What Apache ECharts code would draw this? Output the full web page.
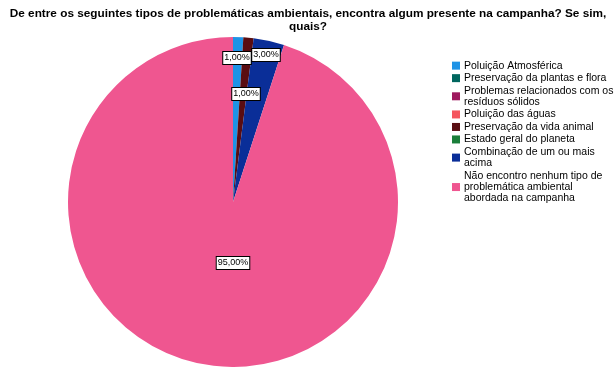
<!DOCTYPE html>
<html><head><meta charset="utf-8">
<script src="https://cdn.jsdelivr.net/npm/echarts@6/dist/echarts.min.js"></script>
<style>html,body{margin:0;padding:0;background:#fff}#c{width:616px;height:367px}</style>
</head><body><div id="c"></div>
<script>
const titleText = "De entre os seguintes tipos de problemáticas ambientais, encontra algum presente na campanha? Se sim,\nquais?";
const categories = [
  "Poluição Atmosférica",
  "Preservação da plantas e flora",
  "Problemas relacionados com os\nresíduos sólidos",
  "Poluição das águas",
  "Preservação da vida animal",
  "Estado geral do planeta",
  "Combinação de um ou mais\nacima",
  "Não encontro nenhum tipo de\nproblemática ambiental\nabordada na campanha"
];
const values = [1, 0, 0, 0, 1, 0, 3, 95];
const colors = ["#1e93e6", "#00665e", "#9e1a5e", "#f5555e", "#5a0d12", "#1a7e3a", "#0a2e98", "#ef5690"];
// label anchor offsets relative to the pie centre (layout, not data)
const labelOffsets = {0: [4, -144], 4: [13, -108], 6: [33, -147], 7: [0, 61]};

const cx = 233, cy = 202, R = 165;
const chart = echarts.init(document.getElementById('c'), null, {renderer: 'canvas'});
chart.setOption({
  animation: false,
  title: {
    text: titleText, left: 'center', top: 2,
    textStyle: {fontFamily: 'Liberation Sans, Arial', fontSize: 11.8, fontWeight: 'bold', color: '#000', lineHeight: 13}
  },
  legend: {
    orient: 'vertical', left: 447, top: 55,
    itemWidth: 8, itemHeight: 8, itemGap: 1.2,
    icon: 'rect',
    data: categories,
    textStyle: {fontFamily: 'Liberation Sans, Arial', fontSize: 10.5, color: '#000', lineHeight: 11.3, padding: [0,0,0,-1]}
  },
  series: [{
    type: 'pie',
    center: [cx, cy], radius: [0, R],
    startAngle: 90, clockwise: true,
    minAngle: 0,
    avoidLabelOverlap: false,
    color: colors,
    itemStyle: {borderWidth: 0},
    label: {
      show: true, position: 'inside',
      formatter: p => p.value.toFixed(2).replace('.', ',') + '%',
      fontFamily: 'Liberation Sans, Arial', fontSize: 9, color: '#000',
      backgroundColor: '#fff', borderColor: '#000', borderWidth: 1, padding: [2, 1, 1, 1]
    },
    labelLine: {show: false},
    labelLayout: function (p) {
      const o = labelOffsets[p.dataIndex];
      if (!o) return {};
      return {x: cx + o[0], y: cy + o[1], align: 'center', verticalAlign: 'middle'};
    },
    data: categories.map((n, i) => ({name: n, value: values[i], label: {show: values[i] > 0}}))
  }]
});
</script></body></html>
